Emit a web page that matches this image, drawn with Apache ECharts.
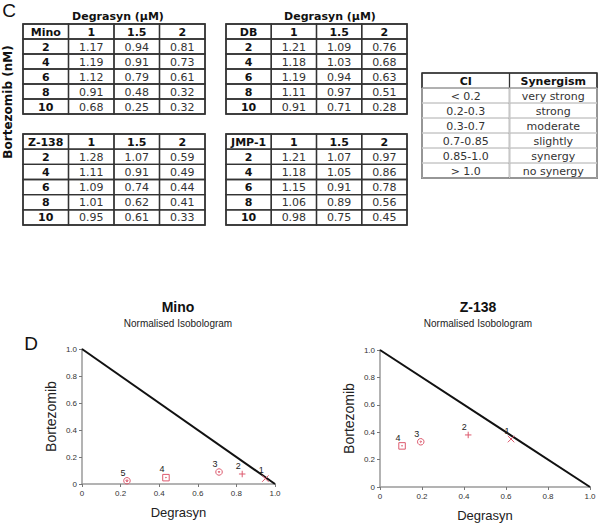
<!DOCTYPE html>
<html>
<head>
<meta charset="utf-8">
<script src="https://cdn.jsdelivr.net/npm/echarts@6/dist/echarts.min.js"></script>
<style>html,body{margin:0;padding:0;background:#fff}#c{width:600px;height:524px}</style>
</head>
<body>
<div id="c"></div>
<script>
// ---- data ----
const degrasynDoses = ['1', '1.5', '2'];
const bortezomibDoses = ['2', '4', '6', '8', '10'];
const minoCI = [[1.17, 0.94, 0.81], [1.19, 0.91, 0.73], [1.12, 0.79, 0.61], [0.91, 0.48, 0.32], [0.68, 0.25, 0.32]];
const dbCI = [[1.21, 1.09, 0.76], [1.18, 1.03, 0.68], [1.19, 0.94, 0.63], [1.11, 0.97, 0.51], [0.91, 0.71, 0.28]];
const z138CI = [[1.28, 1.07, 0.59], [1.11, 0.91, 0.49], [1.09, 0.74, 0.44], [1.01, 0.62, 0.41], [0.95, 0.61, 0.33]];
const jmp1CI = [[1.21, 1.07, 0.97], [1.18, 1.05, 0.86], [1.15, 0.91, 0.78], [1.06, 0.89, 0.56], [0.98, 0.75, 0.45]];
const ciHeader = ['CI', 'Synergism'];
const ciRanges = ['< 0.2', '0.2-0.3', '0.3-0.7', '0.7-0.85', '0.85-1.0', '> 1.0'];
const synergism = ['very strong', 'strong', 'moderate', 'slightly', 'synergy', 'no synergy'];
const isoMinoDeg = [0.95, 0.83, 0.71, 0.435, 0.233];
const isoMinoBor = [0.04, 0.074, 0.089, 0.047, 0.024];
const isoMinoLabels = ['1', '2', '3', '4', '5'];
const isoZ138Deg = [0.624, 0.42, 0.194, 0.105];
const isoZ138Bor = [0.35, 0.38, 0.33, 0.30];
const isoZ138Labels = ['1', '2', '3', '4'];
const additivityLine = [[0, 1], [1, 0]];
const isoTicks = [0, 0.2, 0.4, 0.6, 0.8, 1.0];

// ---- styles ----
const TF = '"DejaVu Sans", Verdana, sans-serif';
const AF = '"Liberation Sans", Arial, sans-serif';
const NF = '"Liberation Sans Narrow", "Liberation Sans", Arial, sans-serif';
const markColor = '#dd5a6e';
const markSymbols = [
  'path://M0,0L10,10M10,0L0,10',
  'path://M5,0L5,10M0,5L10,5',
  'path://M5,0A5,5,0,1,1,4.99,0ZM5,4A1,1,0,1,1,4.99,4Z',
  'path://M0,0L10,0L10,10L0,10ZM5,4.4A0.6,0.6,0,1,1,4.99,4.4Z',
  'path://M5,0A5,5,0,1,1,4.99,0ZM3.2,4L6.8,4L5,7Z'
];

const chart = echarts.init(document.getElementById('c'), null, {renderer: 'svg'});

function buildCITable(name, vals) {
  const cells = [];
  const cols = [name].concat(degrasynDoses);
  cols.forEach((t, ci) => cells.push({c: ci, r: 0, t: t, bold: true}));
  bortezomibDoses.forEach((d, ri) => {
    cells.push({c: 0, r: ri + 1, t: d, bold: true});
    vals[ri].forEach((v, ci) => cells.push({c: ci + 1, r: ri + 1, t: v.toFixed(2), bold: false}));
  });
  return cells;
}
function buildLegendTable() {
  const cells = [];
  ciHeader.forEach((t, ci) => cells.push({c: ci, r: 0, t: t, bold: true}));
  ciRanges.forEach((t, ri) => {
    cells.push({c: 0, r: ri + 1, t: t, bold: false});
    cells.push({c: 1, r: ri + 1, t: synergism[ri], bold: false});
  });
  return cells;
}

const tables = [
  {cells: buildCITable('Mino', minoCI), nc: 4, nr: 6, box: {left: 23, top: 24, width: 182, height: 90}, legend: false},
  {cells: buildCITable('DB', dbCI), nc: 4, nr: 6, box: {left: 226, top: 24, width: 181, height: 90}, legend: false},
  {cells: buildCITable('Z-138', z138CI), nc: 4, nr: 6, box: {left: 23, top: 134, width: 182, height: 91}, legend: false},
  {cells: buildCITable('JMP-1', jmp1CI), nc: 4, nr: 6, box: {left: 226, top: 134, width: 181, height: 91}, legend: false},
  {cells: buildLegendTable(), nc: 2, nr: 7, box: {left: 422, top: 73, width: 175, height: 105}, legend: true}
];

const grids = [], xAxes = [], yAxes = [], series = [];
tables.forEach((tb, gi) => {
  grids.push(Object.assign({show: true, borderColor: '#333', borderWidth: 1.5, backgroundColor: '#fff'}, tb.box));
  xAxes.push({type: 'category', gridIndex: gi, show: false, data: Array.from({length: tb.nc}, (_, i) => 'c' + i)});
  yAxes.push({type: 'category', gridIndex: gi, show: false, inverse: true, data: Array.from({length: tb.nr}, (_, i) => 'r' + i)});
  const cells = tb.cells;
  series.push({
    type: 'custom', xAxisIndex: gi, yAxisIndex: gi, silent: true,
    data: cells.map(c => [c.c, c.r]),
    renderItem: function (params, api) {
      const cell = cells[params.dataIndex];
      const p = api.coord([api.value(0), api.value(1)]);
      const s = api.size([1, 1]);
      const x0 = p[0] - s[0] / 2, y0 = p[1] - s[1] / 2;
      const children = [];
      if (tb.legend) {
        children.push({type: 'rect', shape: {x: x0, y: y0, width: s[0], height: s[1]},
          style: {fill: 'none', stroke: cell.r === 0 ? '#333' : '#c8c8c8', lineWidth: 1}});
        if (cell.c === 0) children.push({type: 'line', shape: {x1: x0 + s[0], y1: y0, x2: x0 + s[0], y2: y0 + s[1]},
          style: {stroke: '#333', lineWidth: 1.3}});
      } else {
        children.push({type: 'rect', shape: {x: x0, y: y0, width: s[0], height: s[1]},
          style: {fill: 'none', stroke: '#333', lineWidth: 1.3}});
      }
      children.push({type: 'text', style: {text: cell.t, x: p[0], y: p[1] + 0.5, align: 'center', verticalAlign: 'middle',
        font: (cell.bold ? 'bold ' : '') + '11px ' + TF, fill: cell.bold ? '#111' : '#333'}});
      return {type: 'group', children: children};
    }
  });
});

const plots = [
  {box: {left: 82, top: 349, width: 193, height: 135}, xs: isoMinoDeg, ys: isoMinoBor, labels: isoMinoLabels},
  {box: {left: 380, top: 350, width: 210, height: 137}, xs: isoZ138Deg, ys: isoZ138Bor, labels: isoZ138Labels}
];
const tickFmt = v => (v === 0 ? '0' : v.toFixed(1));
plots.forEach((pl, k) => {
  const gi = tables.length + k;
  grids.push(pl.box);
  const axCommon = {
    type: 'value', gridIndex: gi, min: isoTicks[0], max: isoTicks[isoTicks.length - 1], interval: 0.2,
    splitLine: {show: false},
    axisLine: {show: true, lineStyle: {color: '#9a9a9a', width: 1.5}},
    axisTick: {show: true, length: 3, lineStyle: {color: '#777'}},
    axisLabel: {formatter: tickFmt, fontSize: 8, fontFamily: AF, color: '#333', margin: 5},
    nameLocation: 'middle'
  };
  xAxes.push(Object.assign({}, axCommon, {name: 'Degrasyn', nameGap: 22,
    nameTextStyle: {fontSize: 13, fontFamily: AF, color: '#222'}}));
  yAxes.push(Object.assign({}, axCommon, {name: 'Bortezomib', nameGap: 24,
    nameTextStyle: {fontSize: 14, fontFamily: AF, color: '#222'}}));
  series.push({
    type: 'line', xAxisIndex: gi, yAxisIndex: gi, data: additivityLine, showSymbol: false, silent: true,
    lineStyle: {color: '#111', width: 2}, z: 2
  });
  series.push({
    type: 'scatter', xAxisIndex: gi, yAxisIndex: gi, silent: true, z: 3,
    data: pl.xs.map((x, i) => ({value: [x, pl.ys[i]], symbol: markSymbols[i]})),
    symbolSize: 6.5,
    itemStyle: {color: 'none', borderColor: markColor, borderWidth: 1, opacity: 1},
    label: {show: true, position: 'top', distance: 0, offset: [-4, 2], fontSize: 9, fontFamily: AF, color: '#222',
      formatter: p => pl.labels[p.dataIndex]}
  });
});

const txt = (x, y, text, font, fill, extra) => Object.assign({type: 'text', x: x, y: y,
  style: {text: text, font: font, fill: fill || '#111', align: 'center', verticalAlign: 'middle'}}, extra || {});

chart.setOption({
  animation: false,
  backgroundColor: '#fff',
  grid: grids,
  xAxis: xAxes,
  yAxis: yAxes,
  series: series,
  graphic: [
    txt(9, 10, 'C', '19px ' + AF),
    txt(118, 16, 'Degrasyn (\u03bcM)', 'bold 11px ' + TF),
    txt(330, 16, 'Degrasyn (\u03bcM)', 'bold 11px ' + TF),
    txt(8, 102, 'Bortezomib (nM)', 'bold 12px ' + TF, '#111', {rotation: Math.PI / 2}),
    txt(31, 343, 'D', '19px ' + AF),
    txt(178, 307, 'Mino', 'bold 14px ' + AF),
    txt(178, 323, 'Normalised Isobologram', '10px ' + NF, '#222'),
    txt(478, 307, 'Z-138', 'bold 14px ' + AF),
    txt(478, 323, 'Normalised Isobologram', '10px ' + NF, '#222')
  ]
});
</script>
</body>
</html>
